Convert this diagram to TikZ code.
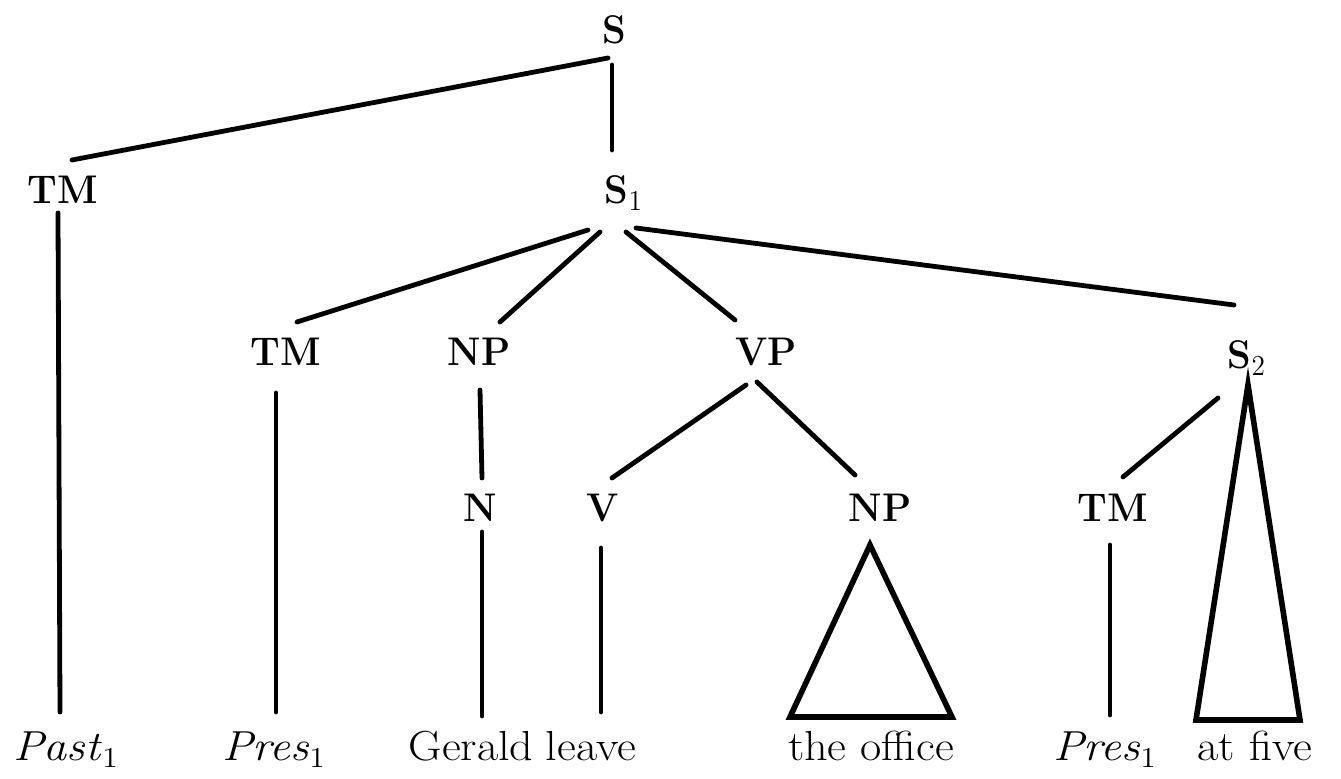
\documentclass[tikz,border=0pt]{standalone}
\usepackage{graphicx}
\usetikzlibrary{calc}
\newcommand{\lbx}[1]{\scalebox{0.95}[1]{#1}}
\newcommand{\lfx}[1]{\scalebox{1.1}[1]{#1}}
\begin{document}
\begin{tikzpicture}[x=0.5pt,y=-0.5pt,
  lab/.style={anchor=base,inner sep=0pt,font=\fontsize{20}{24}\selectfont\bfseries},
  leaf/.style={anchor=base,inner sep=0pt,font=\fontsize{21}{25}\selectfont},
  edge/.style={line width=2.4pt,line cap=round},
  tri/.style={line width=2.8pt,line join=miter}]
\useasboundingbox[fill=white] (0,0) rectangle (1341,779);
% labels
\node[lab] (S)   at (614,44)  {\lbx{S}};
\node[lab] (TM1) at (63,204)  {\lbx{TM}};
\node[lab] (S1)  at (624,204) {\lbx{S$_1$}};
\node[lab] (TM2) at (286,366) {\lbx{TM}};
\node[lab] (NP1) at (479,366) {\lbx{NP}};
\node[lab] (VP)  at (766,366) {\lbx{VP}};
\node[lab] (S2)  at (1247,369) {\lbx{S$_2$}};
\node[lab] (N)   at (480,522) {\lbx{N}};
\node[lab] (V)   at (603,522) {\lbx{V}};
\node[lab] (NP2) at (880,522) {\lbx{NP}};
\node[lab] (TM3) at (1113,522) {\lbx{TM}};
% leaves
\node[leaf] (Past1)  at (66,761)   {\lfx{\textit{Past}$_1$}};
\node[leaf] (Pres1a) at (274,761)  {\lfx{\textit{Pres}$_1$}};
\node[leaf] (Gerald) at (471,761)  {\lfx{Gerald}};
\node[leaf] (leave)  at (591,761)  {\lfx{leave}};
\node[leaf] (office) at (871,761)  {\lfx{the office}};
\node[leaf] (Pres1b) at (1105,761) {\lfx{\textit{Pres}$_1$}};
\node[leaf] (atfive) at (1255,761) {\lfx{at five}};
% connectors
\draw[edge] ($(S.base)+(-6,14)$) -- ($(TM1.base)+(9,-44)$);
\draw[edge] ($(S.base)+(-2,21)$) -- ($(S1.base)+(-12,-54)$);
\draw[edge] ($(TM1.base)+(-5,9)$) -- ($(Past1.base)+(-6,-49)$);
\draw[edge] ($(S1.base)+(-36,26)$) -- ($(TM2.base)+(11,-44)$);
\draw[edge] ($(S1.base)+(-24,28)$) -- ($(NP1.base)+(21,-44)$);
\draw[edge] ($(S1.base)+(2,28)$) -- ($(VP.base)+(-31,-46)$);
\draw[edge] ($(S1.base)+(12,24)$) -- ($(S2.base)+(-13,-64)$);
\draw[edge] ($(TM2.base)+(-10,27)$) -- ($(Pres1a.base)+(2,-49)$);
\draw[edge] ($(NP1.base)+(1,24)$) -- ($(N.base)+(2,-44)$);
\draw[edge] ($(N.base)+(2,10)$) -- ($(Gerald.base)+(11,-45)$);
\draw[edge] ($(VP.base)+(-20,19)$) -- ($(V.base)+(9,-44)$);
\draw[edge] ($(VP.base)+(-9,16)$) -- ($(NP2.base)+(-25,-47)$);
\draw[edge] ($(V.base)+(-2,26)$) -- ($(leave.base)+(10,-49)$);
\draw[edge] ($(S2.base)+(-29,29)$) -- ($(TM3.base)+(10,-45)$);
\draw[edge] ($(TM3.base)+(-3,23)$) -- ($(Pres1b.base)+(5,-46)$);
% triangles
\draw[tri] ($(NP2.base)+(-10,23)$) -- ($(office.base)+(-81,-44)$) -- ($(office.base)+(81,-44)$) -- cycle;
\draw[tri] ($(S2.base)+(1,16)$) -- ($(atfive.base)+(-59,-41)$) -- ($(atfive.base)+(45,-41)$) -- cycle;
\end{tikzpicture}
\end{document}
